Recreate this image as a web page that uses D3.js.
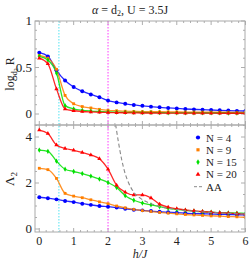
<!doctype html>
<html>
<head>
<meta charset="utf-8">
<title>log R and Lambda2 vs h/J</title>
<script src="https://cdnjs.cloudflare.com/ajax/libs/d3/7.8.5/d3.min.js"></script>
<style>
  body { margin: 0; background: #fff; }
  text { font-family: "Liberation Serif", "DejaVu Serif", serif; fill: #222; }
</style>
</head>
<body>
<div id="chart"></div>
<script>
// field values h/J (markers every 0.25)
const hVals = d3.range(0, 6.001, 0.25);

// top panel: log_{d2} R
const logR_N4  = [0.66,0.62,0.47,0.36,0.29,0.245,0.21,0.18,0.145,0.125,0.11,0.097,0.088,0.079,0.072,0.065,0.06,0.054,0.05,0.046,0.043,0.04,0.037,0.034,0.032];
const logR_N9  = [0.63,0.6,0.48,0.2,0.11,0.08,0.065,0.05,0.04,0.035,0.03,0.028,0.026,0.025,0.024,0.023,0.022,0.021,0.021,0.02,0.02,0.019,0.019,0.018,0.018];
const logR_N15 = [0.62,0.58,0.44,0.09,0.055,0.04,0.032,0.027,0.023,0.02,0.018,0.017,0.016,0.015,0.014,0.013,0.013,0.012,0.012,0.011,0.011,0.011,0.01,0.01,0.01];
const logR_N20 = [0.6,0.54,0.27,0.055,0.035,0.027,0.022,0.018,0.016,0.014,0.013,0.012,0.011,0.011,0.01,0.01,0.01,0.009,0.009,0.009,0.009,0.008,0.008,0.008,0.008];

// bottom panel: Lambda_2
const lam_N4  = [1.38,1.34,1.29,1.22,1.17,1.1,1.05,1.0,0.97,0.93,0.88,0.84,0.81,0.78,0.75,0.73,0.71,0.69,0.67,0.66,0.65,0.64,0.63,0.62,0.61];
const lam_N9  = [2.64,2.58,2.2,1.55,1.43,1.36,1.27,1.18,1.1,1.0,0.92,0.85,0.8,0.76,0.72,0.69,0.66,0.63,0.61,0.59,0.57,0.56,0.54,0.53,0.51];
const lam_N15 = [3.43,3.38,2.95,2.6,2.5,2.41,2.3,2.17,2.02,1.8,1.45,1.25,1.13,1.05,0.97,0.9,0.85,0.81,0.78,0.75,0.73,0.71,0.7,0.69,0.68];
const lam_N20 = [4.3,4.15,3.65,3.5,3.42,3.33,3.22,3.05,2.6,1.9,1.6,1.48,1.48,1.35,1.08,0.95,0.88,0.83,0.79,0.76,0.73,0.71,0.69,0.67,0.65];

// AA approximation (dashed)
const aaH   = [2.22,2.3,2.4,2.5,2.6,2.75,3.0,3.25,3.5,4.0,4.5,5.0,5.5,6.0];
const aaLam = [4.55,3.8,3.0,2.4,2.0,1.6,1.28,1.1,0.98,0.85,0.77,0.72,0.68,0.65];

const hCyan = 0.57, hMagenta = 2;

const series = [
  { name: "N = 4",  color: "#0000ff", shape: d3.symbolCircle,   size: 12, top: logR_N4,  bot: lam_N4 },
  { name: "N = 9",  color: "#ff7f00", shape: d3.symbolSquare,   size: 8,  top: logR_N9,  bot: lam_N9 },
  { name: "N = 15", color: "#00e000", shape: d3.symbolDiamond,  size: 8,  top: logR_N15, bot: lam_N15 },
  { name: "N = 20", color: "#ff0000", shape: d3.symbolTriangle, size: 8,  top: logR_N20, bot: lam_N20 }
];

const W = 249, H = 260;
const left = 35, right = 245;
const topY = 21, midY = 125, botY = 232;

const svg = d3.select("#chart").append("svg")
  .attr("width", W).attr("height", H);

const x = d3.scaleLinear().domain([0, 6]).range([39.3, 245.5]);
const yTop = d3.scaleLinear().domain([0, 1]).range([114, 21]);
const yBot = d3.scaleLinear().domain([0, 4]).range([229, 137]);

svg.append("clipPath").attr("id", "ct")
  .append("rect").attr("x", left).attr("y", topY).attr("width", right - left).attr("height", midY - topY);
svg.append("clipPath").attr("id", "cb")
  .append("rect").attr("x", left).attr("y", midY).attr("width", right - left).attr("height", botY - midY);

// ticks (inside the frame)
const tickG = svg.append("g").attr("stroke", "#999").attr("stroke-width", 0.8);
d3.range(0, 6.01, 0.2).forEach(v => {
  const major = Math.abs(v - Math.round(v)) < 1e-6;
  const len = major ? 4 : 2;
  tickG.append("line").attr("x1", x(v)).attr("x2", x(v)).attr("y1", botY).attr("y2", botY - len);
  tickG.append("line").attr("x1", x(v)).attr("x2", x(v)).attr("y1", topY).attr("y2", topY + len);
  tickG.append("line").attr("x1", x(v)).attr("x2", x(v)).attr("y1", midY).attr("y2", midY - len);
  tickG.append("line").attr("x1", x(v)).attr("x2", x(v)).attr("y1", midY).attr("y2", midY + len);
});
d3.range(0, 1.01, 0.1).forEach((v, i) => {
  const len = i % 5 === 0 ? 4 : 2;
  tickG.append("line").attr("x1", left).attr("x2", left + len).attr("y1", yTop(v)).attr("y2", yTop(v));
  tickG.append("line").attr("x1", right).attr("x2", right - len).attr("y1", yTop(v)).attr("y2", yTop(v));
});
d3.range(0, 4.51, 0.5).forEach((v, i) => {
  const len = i % 4 === 0 ? 4 : 2;
  tickG.append("line").attr("x1", left).attr("x2", left + len).attr("y1", yBot(v)).attr("y2", yBot(v));
  tickG.append("line").attr("x1", right).attr("x2", right - len).attr("y1", yBot(v)).attr("y2", yBot(v));
});

// vertical dotted markers
[[hCyan, "#6fe8f4"], [hMagenta, "#ff5cff"]].forEach(([h, c]) => {
  svg.append("line")
    .attr("x1", x(h)).attr("x2", x(h)).attr("y1", topY).attr("y2", botY)
    .attr("stroke", c).attr("stroke-width", 1.2).attr("stroke-dasharray", "1.5,1.5");
});

function drawPanel(key, y, clipId) {
  const g = svg.append("g").attr("clip-path", "url(#" + clipId + ")");
  const line = d3.line().x((d, i) => x(hVals[i])).y(d => y(d)).curve(d3.curveMonotoneX);
  series.forEach(s => {
    g.append("path").datum(s[key])
      .attr("fill", "none").attr("stroke", s.color).attr("stroke-width", 1.3)
      .attr("stroke-opacity", 0.85).attr("d", line);
  });
  series.forEach(s => {
    g.selectAll(null).data(s[key]).join("path")
      .attr("transform", (d, i) => `translate(${x(hVals[i])},${y(d)})`)
      .attr("d", d3.symbol().type(s.shape).size(s.size))
      .attr("fill", s.color);
  });
  return g;
}

drawPanel("top", yTop, "ct");
const gb = drawPanel("bot", yBot, "cb");

// AA dashed curve
gb.append("path")
  .datum(aaH.map((h, i) => [h, aaLam[i]]))
  .attr("fill", "none").attr("stroke", "#8a8a8a").attr("stroke-width", 1.1)
  .attr("stroke-dasharray", "4,2.5")
  .attr("d", d3.line().x(d => x(d[0])).y(d => yBot(d[1])).curve(d3.curveMonotoneX));

// frame
const frame = svg.append("g").attr("fill", "none").attr("stroke", "#aaa").attr("stroke-width", 1);
frame.append("rect").attr("x", left).attr("y", topY).attr("width", right - left).attr("height", midY - topY);
frame.append("rect").attr("x", left).attr("y", midY).attr("width", right - left).attr("height", botY - midY);

// tick labels
[[0, "0"], [0.5, "0.5"], [1, "1"]].forEach(([v, t]) => {
  svg.append("text").attr("x", 32).attr("y", yTop(v) + 4).attr("text-anchor", "end")
    .style("font-size", "13px").text(t);
});
[0, 2, 4].forEach(v => {
  svg.append("text").attr("x", 32).attr("y", yBot(v) + 4).attr("text-anchor", "end")
    .style("font-size", "13px").text(v);
});
d3.range(0, 7).forEach(v => {
  svg.append("text").attr("x", x(v)).attr("y", 245).attr("text-anchor", "middle")
    .style("font-size", "12px").text(v);
});

// title
const title = svg.append("text").attr("x", 130).attr("y", 14).attr("text-anchor", "middle").style("font-size", "12px");
title.append("tspan").style("font-style", "italic").text("α");
title.append("tspan").text(" = d");
title.append("tspan").attr("dy", 2).style("font-size", "8px").text("2");
title.append("tspan").attr("dy", -2).text(", U = 3.5J");

// axis labels
const yl1 = svg.append("text").attr("transform", "translate(14,74) rotate(-90)")
  .attr("text-anchor", "middle").style("font-size", "12px");
yl1.append("tspan").text("log");
yl1.append("tspan").attr("dy", 3).style("font-size", "8px").text("d");
yl1.append("tspan").style("font-size", "6px").attr("dy", 1).text("2");
yl1.append("tspan").attr("dy", -4).text(" R");

const yl2 = svg.append("text").attr("transform", "translate(14,179) rotate(-90)")
  .attr("text-anchor", "middle").style("font-size", "13px");
yl2.append("tspan").text("Λ");
yl2.append("tspan").attr("dy", 3).style("font-size", "9px").text("2");

svg.append("text").attr("x", 140).attr("y", 258).attr("text-anchor", "middle")
  .style("font-size", "12px").style("font-style", "italic").text("h/J");

// legend
const legend = svg.append("g");
series.forEach((s, i) => {
  const ly = 137.5 + i * 12.3;
  legend.append("path").attr("transform", `translate(198,${ly})`)
    .attr("d", d3.symbol().type(s.shape).size(s.size + 2))
    .attr("fill", s.color);
  legend.append("text").attr("x", 206).attr("y", ly + 4).style("font-size", "11px").text(s.name);
});
const aaY = 137.5 + 4 * 12.3;
legend.append("line").attr("x1", 194).attr("x2", 202).attr("y1", aaY).attr("y2", aaY)
  .attr("stroke", "#8a8a8a").attr("stroke-width", 1).attr("stroke-dasharray", "3,2");
legend.append("text").attr("x", 206).attr("y", aaY + 4).style("font-size", "11px").text("AA");
</script>
</body>
</html>
